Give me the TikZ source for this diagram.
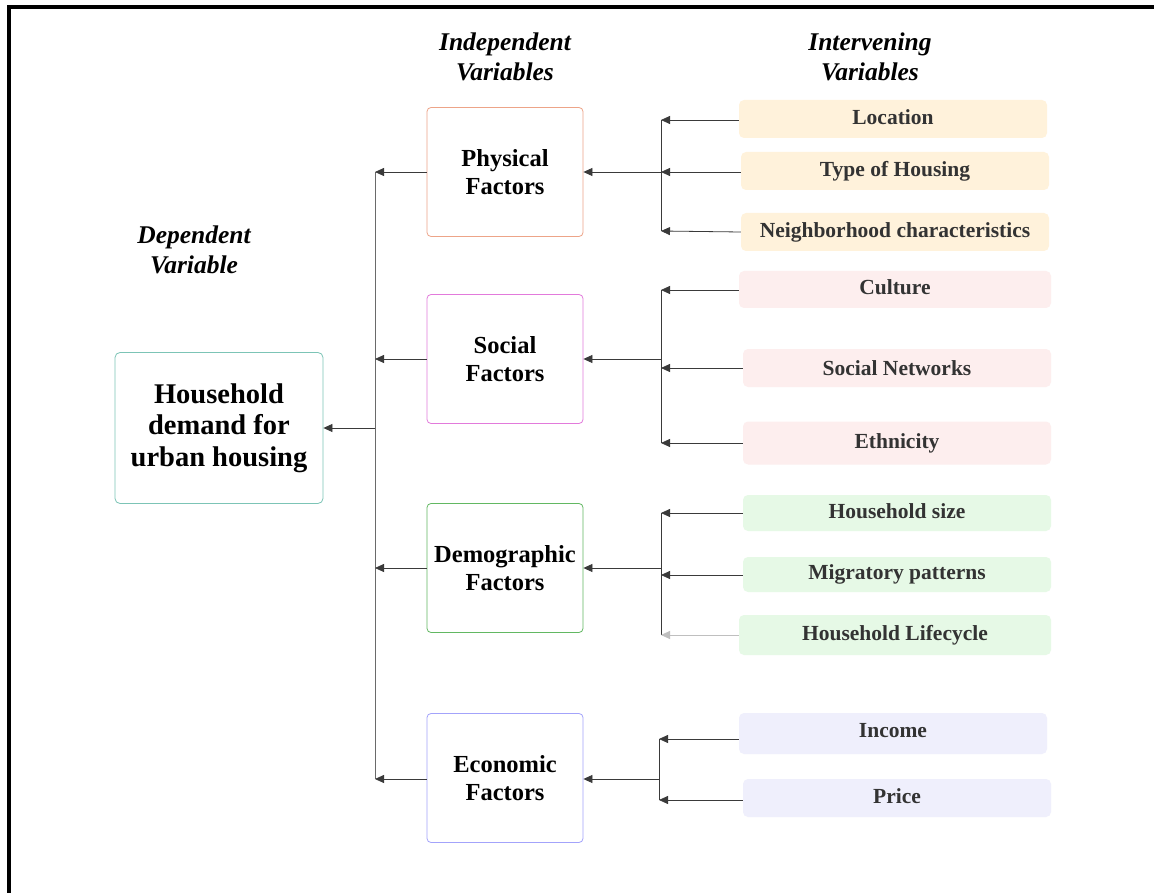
\documentclass[tikz,border=0pt]{standalone}
\usepackage{fontspec}
\setmainfont{Liberation Serif}
\usetikzlibrary{arrows.meta}
\definecolor{linegray}{HTML}{6A6A6A}
\definecolor{headgray}{HTML}{3A3A3A}
\definecolor{teal1}{HTML}{7CC4B6}
\definecolor{orange1}{HTML}{EDA488}
\definecolor{magenta1}{HTML}{E27ADB}
\definecolor{green1}{HTML}{62B862}
\definecolor{violet1}{HTML}{A3A3FB}
\definecolor{fillorange}{HTML}{FFF2DB}
\definecolor{fillpink}{HTML}{FDEEEE}
\definecolor{fillgreen}{HTML}{E6F9E6}
\definecolor{fillviolet}{HTML}{EFEFFC}
\definecolor{itemtext}{HTML}{333333}
\tikzset{
  factorbox/.style={draw, rounded corners=4pt, minimum width=156pt, minimum height=129pt,
    align=center, inner sep=0pt, line width=0.8pt, font=\bfseries\fontsize{24.5}{28}\selectfont},
  itembox/.style={rounded corners=5pt, minimum width=308pt, minimum height=38pt, inner sep=0pt,
    text=itemtext, font=\bfseries\fontsize{21.5}{22}\selectfont},
  heading/.style={align=center, font=\bfseries\itshape\fontsize{25.5}{30}\selectfont},
  conn/.style={draw=linegray, line width=0.8pt},
  arr/.style={conn, -{Triangle[length=9pt,width=8pt]}, color=headgray},
}
\begin{document}
\begin{tikzpicture}[x=1pt,y=-1pt]
\useasboundingbox (0,0) rectangle (1154,893);
\fill[white] (0,0) rectangle (1154,893);
\draw[line width=4pt] (9,893) -- (9,7) -- (1154,7);

% headings
\node[heading] (hind) at (505,57) {Independent\\Variables};
\node[heading] (hint) at (870,57) {Intervening\\Variables};
\node[heading] (hdep) at (194,250) {Dependent\\Variable};

% dependent
\node[draw=teal1, line width=0.8pt, rounded corners=5pt, minimum width=208pt, minimum height=151pt,
  inner sep=0pt, align=center, font=\bfseries\fontsize{28.5}{31.5}\selectfont] (dep) at (219,428)
  {Household\\demand for\\urban housing};

% independent factors
\node[factorbox, draw=orange1] (phys) at (505,172) {Physical\\Factors};
\node[factorbox, draw=magenta1] (soc) at (505,359) {Social\\Factors};
\node[factorbox, draw=green1] (dem) at (505,568) {Demographic\\Factors};
\node[factorbox, draw=violet1] (eco) at (505,778) {Economic\\Factors};

% intervening items
\node[itembox, fill=fillorange, text depth=4pt] (loc) at (893,119) {Location};
\node[itembox, fill=fillorange] (typ) at (895,171) {Type of Housing};
\node[itembox, fill=fillorange] (nei) at (895,232) {Neighborhood characteristics};
\node[itembox, fill=fillpink, minimum width=312pt, minimum height=37pt, text depth=5pt] (cul) at (895,289.5) {Culture};
\node[itembox, fill=fillpink] (sn) at (897,368) {Social Networks};
\node[itembox, fill=fillpink, minimum height=43pt, text depth=3pt] (eth) at (897,443) {Ethnicity};
\node[itembox, fill=fillgreen, minimum height=36pt, text depth=4pt] (hs) at (897,513) {Household size};
\node[itembox, fill=fillgreen, minimum height=35pt] (mig) at (897,574.5) {Migratory patterns};
\node[itembox, fill=fillgreen, minimum width=312pt, minimum height=40pt] (lif) at (895,635) {Household Lifecycle};
\node[itembox, fill=fillviolet, minimum height=41pt, text depth=7pt] (inc) at (893,733.5) {Income};
\node[itembox, fill=fillviolet, text depth=4pt] (pri) at (897,798) {Price};

% main trunk
\coordinate (t1) at (375,172);
\coordinate (t2) at (375,359);
\coordinate (t3) at (375,568);
\coordinate (t4) at (375,779);
\coordinate (t0) at (375,428);
\draw[conn] (t1) -- (t4);
\draw[arr] (t0) -- (dep.east |- t0);
\draw[arr] (phys.west) -- (t1);
\draw[arr] (soc.west) -- (t2);
\draw[arr] (dem.west) -- (t3);
\draw[arr] (eco.west |- t4) -- (t4);

% physical sub-trunk
\coordinate (p1) at (661,120);
\coordinate (p2) at (661,172);
\coordinate (p3) at (661,231);
\draw[conn, draw=headgray] (p1) -- (p3);
\draw[arr] (p2) -- (phys.east);
\draw[arr] (loc.west |- p1) -- (p1);
\draw[arr] (typ.west |- p2) -- (p2);
\draw[arr] (nei.west) -- (p3);

% social sub-trunk
\coordinate (s1) at (661,290);
\coordinate (s2) at (661,359);
\coordinate (s3) at (661,368);
\coordinate (s4) at (661,443);
\draw[conn, draw=headgray] (s1) -- (s4);
\draw[arr] (s2) -- (soc.east);
\draw[arr] (cul.west |- s1) -- (s1);
\draw[arr] (sn.west |- s3) -- (s3);
\draw[arr] (eth.west |- s4) -- (s4);

% demographic sub-trunk
\coordinate (d1) at (661,513);
\coordinate (d2) at (661,568);
\coordinate (d3) at (661,575);
\coordinate (d4) at (661,635);
\draw[conn, draw=headgray] (d1) -- (d4);
\draw[arr] (d2) -- (dem.east);
\draw[arr] (hs.west |- d1) -- (d1);
\draw[arr] (mig.west |- d3) -- (d3);
\draw[arr, draw=gray!50] (lif.west |- d4) -- (d4);

% economic sub-trunk
\coordinate (e1) at (659,739);
\coordinate (e2) at (659,779);
\coordinate (e3) at (659,800);
\draw[conn, draw=headgray] (e1) -- (e3);
\draw[arr] (e2) -- (eco.east |- e2);
\draw[arr] (inc.west |- e1) -- (e1);
\draw[arr] (pri.west |- e3) -- (e3);
\end{tikzpicture}
\end{document}
